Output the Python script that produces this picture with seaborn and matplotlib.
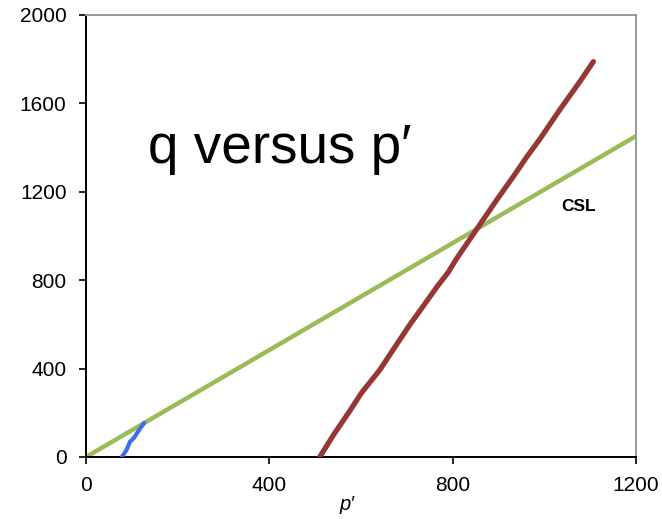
import matplotlib
matplotlib.use("Agg")
import matplotlib.pyplot as plt
import seaborn as sns
import pandas as pd

# Critical state line q = M p'
csl_p = [0, 1200]
csl_q = [0, 1452]

# Stress path, loose sample (small p')
loose_p = [78, 88, 96, 104, 112, 120, 127]
loose_q = [0, 30, 69, 85, 110, 135, 154]

# Stress path, dense sample (large p')
dense_p = [510, 540, 576, 601, 641, 678, 707, 740, 765, 790, 809, 845,
           896, 932, 961, 990, 1034, 1078, 1107]
dense_q = [0, 100, 210, 290, 394, 510, 600, 695, 768, 835, 899, 1008,
           1163, 1268, 1356, 1438, 1572, 1700, 1789]

sns.set_theme(style="white")
plt.rcParams['font.family'] = ['Liberation Sans', 'DejaVu Sans']

fig = plt.figure(figsize=(6.62, 5.19), dpi=100)
ax = fig.add_axes([86 / 662, 62 / 519, 550 / 662, 442 / 519])

csl = pd.DataFrame({"p": csl_p, "q": csl_q})
loose = pd.DataFrame({"p": loose_p, "q": loose_q})
dense = pd.DataFrame({"p": dense_p, "q": dense_q})

sns.lineplot(data=csl, x="p", y="q", ax=ax, color="#9BBB59", linewidth=3.2,
             sort=False, zorder=2)
sns.lineplot(data=loose, x="p", y="q", ax=ax, color="#3D6EEA", linewidth=3.0,
             sort=False, zorder=3)
sns.lineplot(data=dense, x="p", y="q", ax=ax, color="#953735", linewidth=3.8,
             sort=False, zorder=3, solid_capstyle="round")

ax.set_xlim(0, 1200)
ax.set_ylim(0, 2000)
ax.set_xticks([0, 400, 800, 1200])
ax.set_yticks([0, 400, 800, 1200, 1600, 2000])
ax.tick_params(axis="both", direction="out", length=5, width=1.2, pad=9,
               labelsize=15, colors="black", left=True, bottom=True)
ax.set_xlabel("")
ax.set_ylabel("")

for side in ("left", "bottom"):
    ax.spines[side].set_color("black")
    ax.spines[side].set_linewidth(1.4)
for side in ("top", "right"):
    ax.spines[side].set_color("#999999")
    ax.spines[side].set_linewidth(1.4)

ax.text(0.113, 0.665, "q versus p\u2032", transform=ax.transAxes,
        fontsize=39.5, ha="left", va="baseline", color="black")
ax.text(0.8636, 0.557, "CSL", transform=ax.transAxes, fontsize=12.5,
        fontweight="bold", ha="left", va="baseline", color="black")
ax.text(0.475, -0.108, "p\u2032", transform=ax.transAxes, fontsize=14.5,
        style="italic", ha="center", va="center", color="black")

fig.savefig("out.png", dpi=100)
